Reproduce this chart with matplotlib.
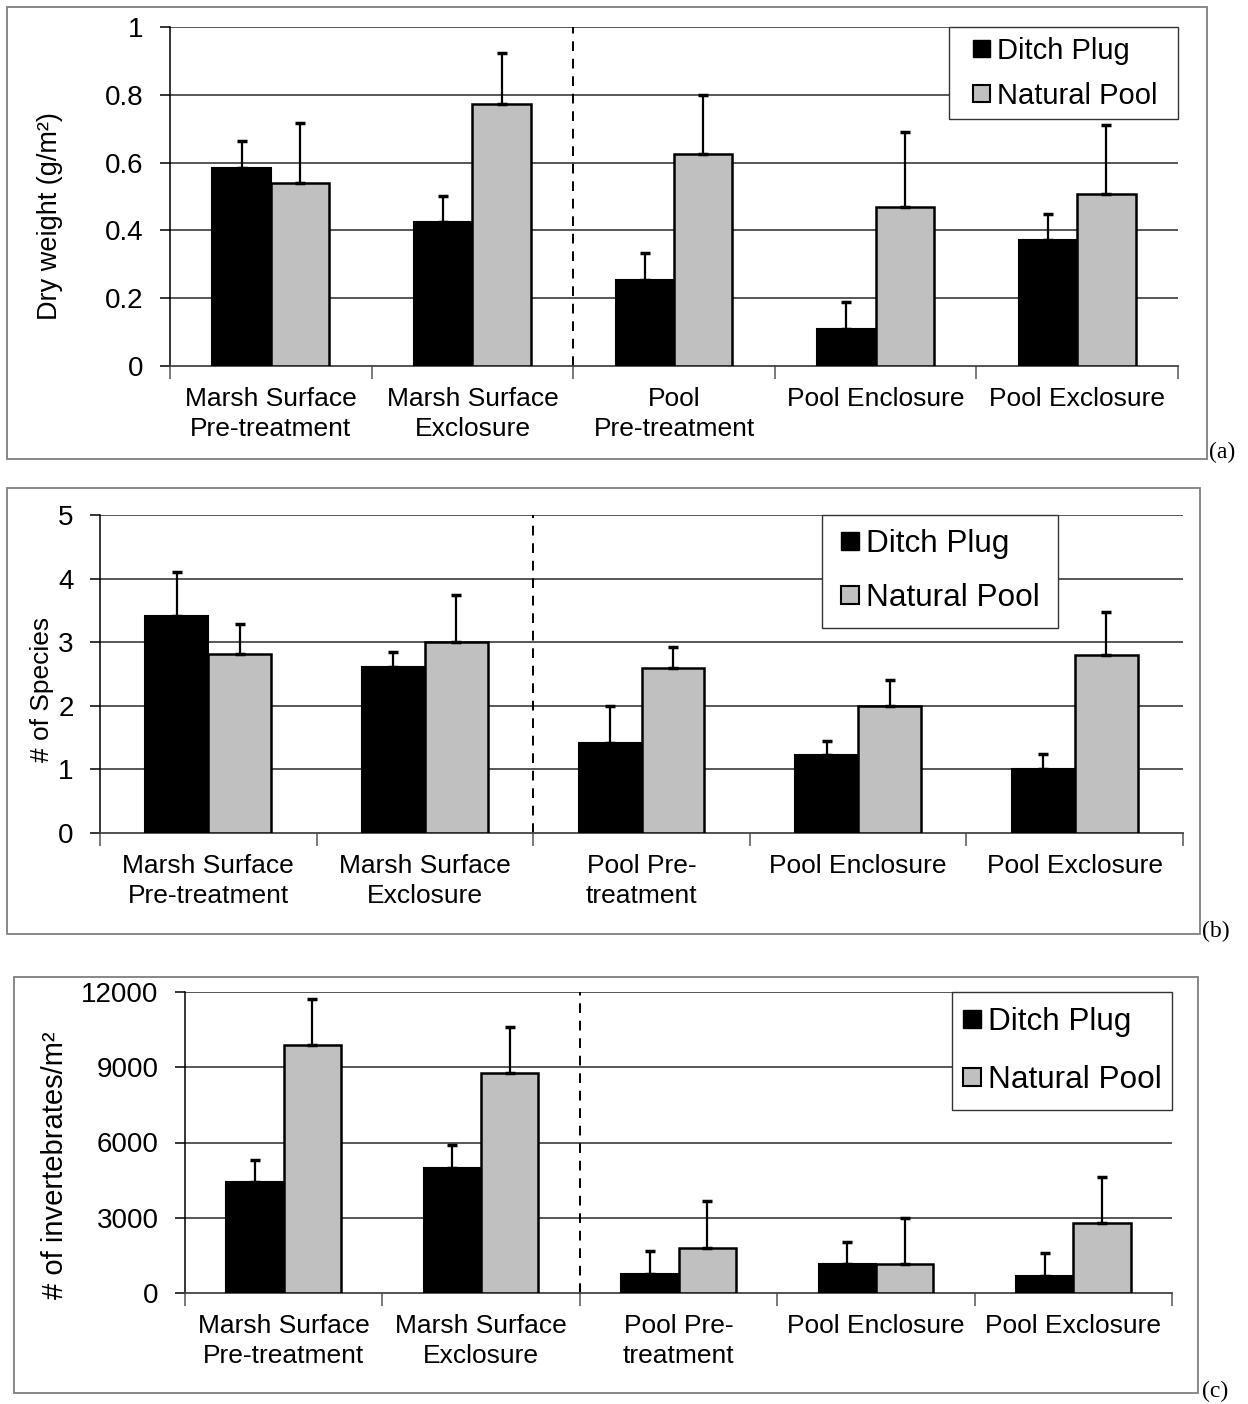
import numpy as np
import matplotlib.pyplot as plt
from matplotlib.patches import Patch, Rectangle
from matplotlib.legend_handler import HandlerPatch

plt.rcParams['font.family'] = ['Liberation Sans', 'DejaVu Sans']

W, H = 1248, 1404

series = ['Ditch Plug', 'Natural Pool']

cats_a = ['Marsh Surface\nPre-treatment', 'Marsh Surface\nExclosure',
          'Pool\nPre-treatment', 'Pool Enclosure', 'Pool Exclosure']
cats_bc = ['Marsh Surface\nPre-treatment', 'Marsh Surface\nExclosure',
           'Pool Pre-\ntreatment', 'Pool Enclosure', 'Pool Exclosure']

# (a) dry weight
ditch_a = [0.585, 0.424, 0.255, 0.110, 0.371]
ditch_a_err = [0.079, 0.077, 0.078, 0.079, 0.078]
pool_a = [0.539, 0.774, 0.626, 0.470, 0.507]
pool_a_err = [0.179, 0.148, 0.172, 0.219, 0.205]
yticks_a = [0, 0.2, 0.4, 0.6, 0.8, 1]
ylabels_a = ['0', '0.2', '0.4', '0.6', '0.8', '1']

# (b) number of species
ditch_b = [3.41, 2.61, 1.41, 1.22, 1.01]
ditch_b_err = [0.69, 0.23, 0.59, 0.23, 0.24]
pool_b = [2.81, 3.00, 2.60, 2.00, 2.80]
pool_b_err = [0.48, 0.75, 0.32, 0.40, 0.68]
yticks_b = [0, 1, 2, 3, 4, 5]

# (c) invertebrates
ditch_c = [4410, 4970, 770, 1140, 660]
ditch_c_err = [900, 950, 910, 910, 930]
pool_c = [9870, 8780, 1800, 1140, 2780]
pool_c_err = [1850, 1840, 1860, 1850, 1840]
yticks_c = [0, 3000, 6000, 9000, 12000]


def px_box(x0, y0, x1, y1):
    return [x0 / W, 1 - y1 / H, (x1 - x0) / W, (y1 - y0) / H]


def square_handler(offset_px, size_px):
    off = offset_px * 0.72
    size = size_px * 0.72

    def make(legend, orig_handle, xdescent, ydescent, width, height, fontsize):
        return Rectangle((-xdescent + off, -ydescent + (height - size) / 2),
                         size, size)
    return HandlerPatch(patch_func=make)


fig = plt.figure(figsize=(W / 100, H / 100), dpi=100)


def panel(frame, axbox, cats, d, de, p, pe, yticks, yticklabels,
          ylabel, ylab_fs, ylab_xy, leg_box, leg_fs, leg_bp, leg_ls,
          sq_off, sq_size, tag, tag_xy):
    fig.patches.append(Rectangle((frame[0] / W, 1 - frame[3] / H),
                                 (frame[2] - frame[0]) / W,
                                 (frame[3] - frame[1]) / H,
                                 transform=fig.transFigure, fill=False,
                                 edgecolor='#7f7f7f', lw=1.3))
    ax = fig.add_axes(px_box(*axbox))
    x = np.arange(len(cats))
    bw = 0.29
    ax.bar(x - bw / 2, d, bw, color='black', edgecolor='black', lw=1.5,
           zorder=3)
    ax.bar(x + bw / 2, p, bw, color='#c0c0c0', edgecolor='black', lw=1.8,
           zorder=3)
    ax.errorbar(x - bw / 2, d, yerr=[np.zeros(len(d)), de], fmt='none',
                ecolor='black', elinewidth=1.6, capsize=3.6, capthick=2.5,
                zorder=4)
    ax.errorbar(x + bw / 2, p, yerr=[np.zeros(len(p)), pe], fmt='none',
                ecolor='black', elinewidth=1.6, capsize=3.6, capthick=2.5,
                zorder=4)

    ax.set_xlim(-0.5, len(cats) - 0.5)
    ax.set_ylim(yticks[0], yticks[-1])
    ax.set_yticks(yticks)
    ax.set_yticklabels(yticklabels)
    for yv in yticks[1:]:
        ax.axhline(yv, color='#2a2a2a', lw=1.1, zorder=1)
    ax.axvline(1.5, color='black', ls=(0, (5, 4)), lw=1.4, zorder=2)

    ax.set_xticks(np.arange(len(cats) + 1) - 0.5)
    ax.set_xticklabels([])
    ax.set_xticks(x, minor=True)
    ax.set_xticklabels(cats, minor=True, fontsize=19, linespacing=1.32)
    ax.tick_params(axis='x', which='major', length=9, width=1.1,
                   color='#555555')
    ax.tick_params(axis='x', which='minor', length=0, pad=15)
    ax.tick_params(axis='y', length=7, width=1.1, labelsize=20, pad=12)

    for s in ['top', 'right']:
        ax.spines[s].set_visible(False)
    ax.spines['left'].set_linewidth(1.1)
    ax.spines['bottom'].set_linewidth(1.3)
    ax.spines['bottom'].set_color('#444444')

    # y label centred on given pixel position
    lx = (ylab_xy[0] - axbox[0]) / (axbox[2] - axbox[0])
    ly = (axbox[3] - ylab_xy[1]) / (axbox[3] - axbox[1])
    ax.set_ylabel(ylabel, fontsize=ylab_fs, va='center')
    ax.yaxis.set_label_coords(lx, ly)

    handles = [Patch(facecolor='black', edgecolor='black', label=series[0]),
               Patch(facecolor='#c0c0c0', edgecolor='black', lw=1.5,
                     label=series[1])]
    aw = axbox[2] - axbox[0]
    ah = axbox[3] - axbox[1]
    bx0 = (leg_box[0] - axbox[0]) / aw
    bw_ = (leg_box[1] - leg_box[0]) / aw
    by1 = (axbox[3] - leg_box[2]) / ah
    fs_px = leg_fs / 0.72
    hl = (sq_off + sq_size - leg_bp * fs_px) / fs_px
    leg = ax.legend(handles=handles, loc='upper left',
                    bbox_to_anchor=(bx0, by1 - 0.5, bw_, 0.5), mode='expand',
                    fontsize=leg_fs, fancybox=False, edgecolor='#333333',
                    framealpha=1, borderaxespad=0, handlelength=hl,
                    handleheight=0.7, handletextpad=7 / fs_px,
                    labelspacing=leg_ls, borderpad=leg_bp,
                    handler_map={Patch: square_handler(
                        sq_off - leg_bp * fs_px, sq_size)})
    leg.get_frame().set_linewidth(1.0)
    leg.set_zorder(5)

    fig.text(tag_xy[0] / W, 1 - tag_xy[1] / H, tag, fontsize=17,
             family='Liberation Serif', ha='left', va='bottom')
    return ax


panel((7, 7, 1207, 459), (170, 27, 1178, 366), cats_a,
      ditch_a, ditch_a_err, pool_a, pool_a_err, yticks_a, ylabels_a,
      'Dry weight (g/m²)', 19.5, (50, 216),
      (949, 1178, 27), 21, 0.33, 0.59, 24, 17, '(a)', (1209, 463))

panel((7, 488, 1200, 934), (100, 515, 1183, 833), cats_bc,
      ditch_b, ditch_b_err, pool_b, pool_b_err, yticks_b,
      [str(v) for v in yticks_b],
      '# of Species', 19, (42, 689),
      (822, 1058, 515), 22.7, 0.45, 0.77, 19, 18, '(b)', (1202, 942))

panel((14, 977, 1198, 1393), (185, 992, 1172, 1293), cats_bc,
      ditch_c, ditch_c_err, pool_c, pool_c_err, yticks_c,
      [str(v) for v in yticks_c],
      '# of invertebrates/m²', 21, (55, 1165),
      (952, 1172, 992), 22.7, 0.48, 0.87, 11, 18, '(c)', (1202, 1402))

fig.savefig('out.png', dpi=100)
